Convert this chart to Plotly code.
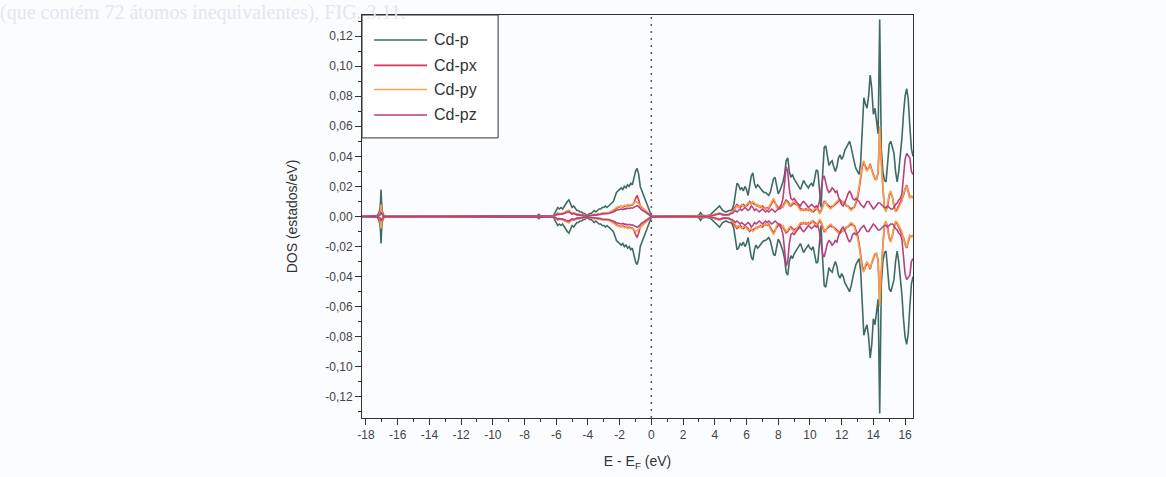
import plotly.graph_objects as go

# ---------------- data ----------------
energy = [
    # semicore Cd-4d region and deep states
    -18.25, -17.6, -17.3, -17.2, -17.12, -17.08, -17.05, -17.02, -16.98, -16.9, -16.7, -16.0,
    -8.0, -7.4, -7.2, -7.1, -7.0, -6.8, -6.4,
    # valence band
    -6.2, -6.1, -6.0, -5.9, -5.8, -5.7, -5.6, -5.5, -5.4, -5.3,
    -5.2, -5.1, -5.0, -4.9, -4.8, -4.7, -4.6, -4.5, -4.4, -4.3,
    -4.2, -4.1, -4.0, -3.9, -3.8, -3.7, -3.6, -3.5, -3.4, -3.3,
    -3.2, -3.1, -3.0, -2.9, -2.8, -2.7, -2.6, -2.5, -2.4, -2.3,
    -2.2, -2.1, -2.0, -1.9, -1.8, -1.7, -1.6, -1.5, -1.4, -1.3,
    -1.2, -1.1, -1.0, -0.9, -0.8, -0.7, -0.6, -0.5, -0.4, -0.3,
    -0.2, -0.1, 0.0, 0.1, 0.2,
    # gap
    0.3, 2.6, 2.9, 3.0, 3.1, 3.2, 3.4, 3.7, 3.9, 4.1, 4.3, 4.5, 4.7, 4.9,
    # conduction band
    5.0, 5.1, 5.2, 5.3, 5.4, 5.5, 5.6, 5.7, 5.8, 5.9,
    6.0, 6.1, 6.2, 6.3, 6.4, 6.5, 6.6, 6.7, 6.8, 6.9,
    7.0, 7.1, 7.2, 7.3, 7.4, 7.5, 7.6, 7.7, 7.8, 7.9,
    8.0, 8.1, 8.2, 8.3, 8.4, 8.5, 8.6, 8.7, 8.8, 8.9,
    9.0, 9.1, 9.2, 9.3, 9.4, 9.5, 9.6, 9.7, 9.8, 9.9,
    10.0, 10.1, 10.2, 10.3, 10.4, 10.5, 10.6, 10.7, 10.8, 10.9,
    11.0, 11.1, 11.2, 11.3, 11.4, 11.5, 11.6, 11.7, 11.8, 11.9,
    12.0, 12.1, 12.2, 12.3, 12.4, 12.5, 12.6, 12.7, 12.8, 12.9,
    13.0, 13.1, 13.2, 13.3, 13.4, 13.5, 13.6, 13.7, 13.8, 13.9,
    14.0, 14.1, 14.2, 14.3, 14.4, 14.5, 14.6, 14.7, 14.8, 14.9,
    15.0, 15.1, 15.2, 15.3, 15.4, 15.5, 15.6, 15.7, 15.8, 15.9,
    16.0, 16.1, 16.2, 16.3, 16.4, 16.5,
]

cd_p = [
    0, 0, 0.0005, 0.002, 0.005, 0.010, 0.018, 0.010, 0.004, 0.001, 0, 0,
    0, 0, 0.0005, 0.0015, 0.0005, 0, 0,
    0.000, 0.002, 0.0045, 0.006, 0.005, 0.006, 0.005, 0.007, 0.009, 0.010,
    0.011, 0.008, 0.006, 0.007, 0.005, 0.004, 0.004, 0.003, 0.003, 0.002,
    0.002, 0.001, 0.001, 0.002, 0.002, 0.003, 0.004, 0.003, 0.004, 0.005,
    0.005, 0.006, 0.006, 0.007, 0.006, 0.007, 0.008, 0.009, 0.010, 0.013,
    0.016, 0.017, 0.018, 0.019, 0.018, 0.020, 0.019, 0.021, 0.020, 0.022,
    0.021, 0.025, 0.030, 0.032, 0.028, 0.020, 0.017, 0.015, 0.012, 0.008,
    0.005, 0.002, 0.0005, 0, 0,
    0, 0, 0.0005, 0.001, 0.0025, 0.001, 0.0005, 0.001, 0.003, 0.005, 0.007, 0.004, 0.003, 0.004,
    0.004, 0.005, 0.008, 0.015, 0.022, 0.021, 0.018, 0.019, 0.017, 0.020,
    0.018, 0.014, 0.020, 0.027, 0.029, 0.022, 0.019, 0.021, 0.020, 0.018,
    0.017, 0.016, 0.016, 0.015, 0.014, 0.016, 0.021, 0.025, 0.026, 0.020,
    0.015, 0.017, 0.020, 0.023, 0.028, 0.037, 0.039, 0.030, 0.026, 0.028,
    0.025, 0.023, 0.021, 0.019, 0.018, 0.021, 0.024, 0.022, 0.020, 0.019,
    0.021, 0.022, 0.020, 0.025, 0.031, 0.030, 0.015, 0.006, 0.028, 0.046,
    0.047, 0.040, 0.034, 0.036, 0.037, 0.033, 0.030, 0.033, 0.039, 0.041,
    0.038, 0.040, 0.044, 0.046, 0.048, 0.050, 0.046, 0.040, 0.036, 0.032,
    0.030, 0.028, 0.036, 0.060, 0.079, 0.075, 0.072, 0.080, 0.094, 0.085,
    0.068, 0.072, 0.064, 0.055, 0.131, 0.045, 0.030, 0.024, 0.023, 0.035,
    0.048, 0.050, 0.045, 0.042, 0.030, 0.023, 0.030, 0.040, 0.052, 0.068,
    0.080, 0.085, 0.078, 0.060, 0.045, 0.040,
]

cd_px = [
    0, 0, 0.0002, 0.001, 0.002, 0.004, 0.007, 0.004, 0.0015, 0.0004, 0, 0,
    0, 0, 0.0002, 0.0005, 0.0002, 0, 0,
    0, 0.0007, 0.0016, 0.0022, 0.0018, 0.002, 0.0017, 0.0025, 0.0032, 0.0036,
    0.004, 0.0028, 0.002, 0.0024, 0.0018, 0.0014, 0.0014, 0.001, 0.001, 0.0007,
    0.0007, 0.0004, 0.0004, 0.0007, 0.0007, 0.001, 0.0014, 0.001, 0.0014, 0.0018,
    0.0018, 0.002, 0.0021, 0.0024, 0.002, 0.0024, 0.0028, 0.0032, 0.0036, 0.0045,
    0.0055, 0.006, 0.0065, 0.0068, 0.0062, 0.007, 0.0066, 0.0075, 0.007, 0.0076,
    0.0075, 0.009, 0.012, 0.014, 0.011, 0.007, 0.006, 0.005, 0.004, 0.0028,
    0.0018, 0.0007, 0.0002, 0, 0,
    0, 0, 0.0002, 0.0004, 0.0008, 0.0004, 0.0002, 0.0004, 0.001, 0.0016, 0.0022, 0.0014, 0.001, 0.0014,
    0.002, 0.003, 0.005, 0.007, 0.008, 0.007, 0.006, 0.007, 0.008, 0.007,
    0.007, 0.008, 0.010, 0.009, 0.009, 0.008, 0.008, 0.007, 0.007, 0.006,
    0.007, 0.006, 0.005, 0.006, 0.005, 0.007, 0.009, 0.011, 0.009, 0.007,
    0.006, 0.005, 0.006, 0.007, 0.009, 0.011, 0.010, 0.008, 0.007, 0.008,
    0.009, 0.008, 0.008, 0.007, 0.005, 0.005, 0.004, 0.005, 0.005, 0.004,
    0.005, 0.004, 0.003, 0.004, 0.005, 0.005, 0.003, 0.004, 0.007, 0.010,
    0.009, 0.008, 0.007, 0.006, 0.007, 0.007, 0.008, 0.009, 0.010, 0.011,
    0.010, 0.009, 0.009, 0.007, 0.007, 0.006, 0.005, 0.006, 0.006, 0.009,
    0.012, 0.018, 0.026, 0.033, 0.036, 0.033, 0.031, 0.032, 0.035, 0.031,
    0.028, 0.025, 0.025, 0.029, 0.058, 0.036, 0.019, 0.006, 0.004, 0.007,
    0.014, 0.016, 0.013, 0.007, 0.004, 0.005, 0.007, 0.009, 0.011, 0.014,
    0.018, 0.021, 0.017, 0.013, 0.013, 0.013,
]

cd_py = [
    0, 0, 0.0002, 0.0008, 0.002, 0.0045, 0.008, 0.0045, 0.002, 0.0005, 0, 0,
    0, 0, 0.0002, 0.0006, 0.0002, 0, 0,
    0, 0.0007, 0.0015, 0.002, 0.0018, 0.002, 0.0018, 0.0025, 0.003, 0.0035,
    0.004, 0.003, 0.002, 0.0025, 0.002, 0.0015, 0.0015, 0.001, 0.001, 0.0008,
    0.0007, 0.0004, 0.0004, 0.0007, 0.0008, 0.001, 0.0015, 0.001, 0.0015, 0.002,
    0.002, 0.0022, 0.0022, 0.0025, 0.0022, 0.0025, 0.003, 0.0035, 0.004, 0.005,
    0.006, 0.0065, 0.007, 0.007, 0.0065, 0.0075, 0.007, 0.008, 0.0075, 0.008,
    0.0078, 0.009, 0.010, 0.0095, 0.0085, 0.007, 0.006, 0.0055, 0.0045, 0.003,
    0.002, 0.0008, 0.0002, 0, 0,
    0, 0, 0.0002, 0.0004, 0.0009, 0.0004, 0.0002, 0.0004, 0.0011, 0.0018, 0.0025, 0.0015, 0.0011, 0.0015,
    0.002, 0.003, 0.004, 0.006, 0.007, 0.006, 0.007, 0.008, 0.007, 0.006,
    0.008, 0.009, 0.009, 0.008, 0.010, 0.009, 0.007, 0.008, 0.006, 0.007,
    0.006, 0.005, 0.006, 0.005, 0.006, 0.008, 0.010, 0.012, 0.010, 0.006,
    0.005, 0.006, 0.007, 0.006, 0.008, 0.010, 0.009, 0.007, 0.008, 0.009,
    0.010, 0.009, 0.007, 0.006, 0.004, 0.004, 0.005, 0.004, 0.004, 0.005,
    0.004, 0.003, 0.004, 0.005, 0.006, 0.004, 0.002, 0.003, 0.006, 0.009,
    0.010, 0.007, 0.006, 0.005, 0.006, 0.008, 0.009, 0.010, 0.011, 0.010,
    0.009, 0.010, 0.008, 0.008, 0.006, 0.005, 0.004, 0.005, 0.007, 0.010,
    0.014, 0.020, 0.028, 0.035, 0.037, 0.032, 0.030, 0.033, 0.034, 0.030,
    0.027, 0.026, 0.024, 0.030, 0.060, 0.035, 0.018, 0.005, 0.003, 0.008,
    0.015, 0.017, 0.012, 0.006, 0.003, 0.004, 0.006, 0.008, 0.010, 0.015,
    0.019, 0.020, 0.016, 0.012, 0.014, 0.012,
]

cd_pz = [
    0, 0, 0.0001, 0.0004, 0.001, 0.002, 0.003, 0.002, 0.001, 0.0002, 0, 0,
    0, 0, 0.0001, 0.0003, 0.0001, 0, 0,
    0, 0.0005, 0.001, 0.0016, 0.0014, 0.0016, 0.0014, 0.002, 0.0025, 0.003,
    0.003, 0.0022, 0.0016, 0.002, 0.0014, 0.0011, 0.0011, 0.0008, 0.0008, 0.0006,
    0.0005, 0.0003, 0.0003, 0.0005, 0.0006, 0.0008, 0.0011, 0.0008, 0.0011, 0.0014,
    0.0014, 0.0017, 0.0017, 0.002, 0.0017, 0.002, 0.0023, 0.0026, 0.0028, 0.0035,
    0.0042, 0.0045, 0.0048, 0.005, 0.0046, 0.0052, 0.005, 0.0056, 0.0052, 0.0058,
    0.0055, 0.0062, 0.007, 0.0072, 0.0065, 0.005, 0.0043, 0.0038, 0.003, 0.002,
    0.0013, 0.0005, 0.0001, 0, 0,
    0, 0, 0.0001, 0.0002, 0.0005, 0.0002, 0.0001, 0.0003, 0.0007, 0.0012, 0.0018, 0.0011, 0.0009, 0.0012,
    0.002, 0.002, 0.003, 0.004, 0.003, 0.004, 0.005, 0.004, 0.005, 0.006,
    0.005, 0.004, 0.005, 0.007, 0.006, 0.004, 0.005, 0.004, 0.003, 0.004,
    0.005, 0.004, 0.003, 0.004, 0.003, 0.004, 0.005, 0.004, 0.003, 0.004,
    0.005, 0.006, 0.008, 0.012, 0.022, 0.033, 0.030, 0.018, 0.012, 0.011,
    0.012, 0.010, 0.009, 0.008, 0.007, 0.009, 0.010, 0.009, 0.007, 0.006,
    0.007, 0.008, 0.007, 0.006, 0.007, 0.006, 0.010, 0.018, 0.025, 0.027,
    0.022, 0.018, 0.016, 0.017, 0.019, 0.018, 0.016, 0.017, 0.013, 0.010,
    0.008, 0.007, 0.009, 0.012, 0.015, 0.017, 0.015, 0.012, 0.011, 0.012,
    0.011, 0.010, 0.008, 0.007, 0.006, 0.008, 0.010, 0.010, 0.008, 0.006,
    0.005, 0.006, 0.008, 0.009, 0.009, 0.008, 0.007, 0.006, 0.006, 0.007,
    0.006, 0.005, 0.005, 0.006, 0.008, 0.009, 0.011, 0.012, 0.015, 0.025,
    0.038, 0.042, 0.040, 0.039, 0.030, 0.028,
]

series_names = ["Cd-p", "Cd-px", "Cd-py", "Cd-pz"]
series_values = [cd_p, cd_px, cd_py, cd_pz]
series_colors = ["#3e6b64", "#d8345c", "#f4a247", "#b8407f"]

x_tick_vals = [-18, -16, -14, -12, -10, -8, -6, -4, -2, 0, 2, 4, 6, 8, 10, 12, 14, 16]
x_tick_text = ["-18", "-16", "-14", "-12", "-10", "-8", "-6", "-4", "-2", "0",
               "2", "4", "6", "8", "10", "12", "14", "16"]
y_tick_vals = [-0.12, -0.10, -0.08, -0.06, -0.04, -0.02, 0.0, 0.02, 0.04, 0.06, 0.08, 0.10, 0.12]
y_tick_text = ["-0,12", "-0,10", "-0,08", "-0,06", "-0,04", "-0,02", "0,00",
               "0,02", "0,04", "0,06", "0,08", "0,10", "0,12"]

# ---------------- figure ----------------
fig = go.Figure()
for name, vals, col in zip(series_names, series_values, series_colors):
    fig.add_trace(go.Scatter(x=energy, y=vals, mode="lines", name=name,
                             line=dict(color=col, width=1.6), showlegend=False))
    fig.add_trace(go.Scatter(x=energy, y=[-v for v in vals], mode="lines", name=name,
                             line=dict(color=col, width=1.6), showlegend=False))

FONT = "Liberation Sans, Arial, sans-serif"

# manual legend (paper coordinates of the plot area)
leg_rows = [0.938, 0.875, 0.815, 0.752]
shapes = [
    dict(type="rect", xref="paper", yref="paper", x0=0, x1=0.247, y0=0.695, y1=1,
         line=dict(color="#333333", width=1), fillcolor="white", layer="above"),
    dict(type="line", xref="x", yref="paper", x0=0, x1=0, y0=0, y1=1,
         line=dict(color="#555555", width=1.5, dash="2px,5px"), layer="below"),
]
annotations = []
for name, col, yy in zip(series_names, series_colors, leg_rows):
    shapes.append(dict(type="line", xref="paper", yref="paper", x0=0.022, x1=0.118,
                       y0=yy, y1=yy, line=dict(color=col, width=1.6), layer="above"))
    annotations.append(dict(xref="paper", yref="paper", x=0.127, y=yy, text=name,
                            showarrow=False, xanchor="left", yanchor="middle",
                            font=dict(family=FONT, size=16, color="#333333")))

# faint bleed-through header text from the scanned page
annotations.append(dict(xref="paper", yref="paper", x=-0.66, y=1.007,
                        text="(que contém 72 átomos inequivalentes), FIG. 3.11.",
                        showarrow=False, xanchor="left", yanchor="middle",
                        font=dict(family="Liberation Serif, serif", size=20, color="#e3e7ee")))

fig.update_layout(
    width=1166, height=477,
    margin=dict(l=362, r=253, t=15, b=59),
    paper_bgcolor="#fbfcfe", plot_bgcolor="#fbfcfe",
    font=dict(family=FONT, size=12, color="#444444"),
    shapes=shapes, annotations=annotations,
    showlegend=False,
)
fig.update_xaxes(
    range=[-18.25, 16.5], showgrid=False, zeroline=False,
    showline=True, mirror=True, linecolor="#333333", linewidth=1,
    tickmode="array", tickvals=x_tick_vals, ticktext=x_tick_text,
    ticks="outside", ticklen=6, tickcolor="#333333", tickwidth=1,
    minor=dict(ticks="outside", ticklen=3, dtick=1, tick0=0, tickcolor="#333333"),
    tickfont=dict(size=12, color="#444444"),
    title=dict(text="E - E<sub>F</sub> (eV)", font=dict(size=14, color="#333333"), standoff=14),
)
fig.update_yaxes(
    range=[-0.134, 0.134], showgrid=False, zeroline=False,
    showline=True, mirror=True, linecolor="#333333", linewidth=1,
    tickmode="array", tickvals=y_tick_vals, ticktext=y_tick_text,
    ticks="outside", ticklen=6, tickcolor="#333333", tickwidth=1,
    minor=dict(ticks="outside", ticklen=3, dtick=0.01, tick0=0, tickcolor="#333333"),
    tickfont=dict(size=12, color="#444444"),
    title=dict(text="DOS (estados/eV)", font=dict(size=14, color="#333333"), standoff=24),
)

fig.write_html("out.html")
